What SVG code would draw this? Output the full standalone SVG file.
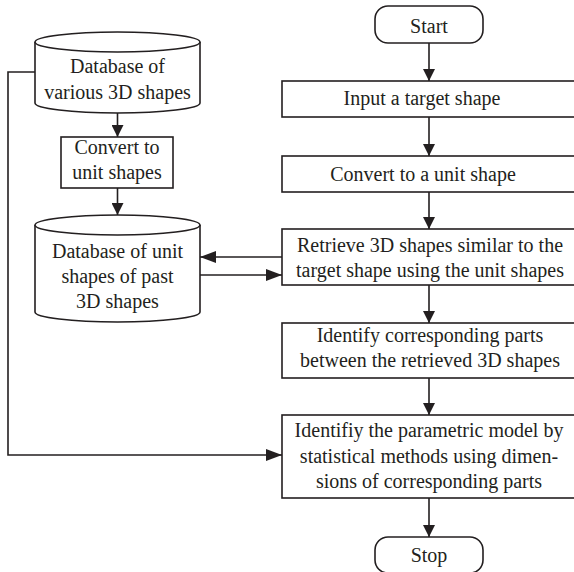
<svg xmlns="http://www.w3.org/2000/svg" width="574" height="572" viewBox="0 0 574 572">
<style>
.s{fill:#fff;stroke:#231f20;stroke-width:1.6}
.t{font-family:'Liberation Serif','DejaVu Serif',serif;font-size:20px;fill:#231f20;text-anchor:middle}
.c{fill:none;stroke:#231f20;stroke-width:1.6}
</style>
<defs>
<marker id="a" viewBox="0 0 12 12" refX="12" refY="6" markerWidth="12" markerHeight="12" markerUnits="userSpaceOnUse" orient="auto">
<path d="M0,0 L12,6 L0,12 z" fill="#231f20"/>
</marker>
<marker id="h" viewBox="0 0 16 12" refX="16" refY="6" markerWidth="16" markerHeight="12" markerUnits="userSpaceOnUse" orient="auto">
<path d="M0,0 L16,6 L0,12 z" fill="#231f20"/>
</marker>
</defs>
<rect width="574" height="572" fill="#fff"/>
<g id="connectors">
<path class="c" d="M429,43 V81" marker-end="url(#a)"/>
<path class="c" d="M429,117 V156" marker-end="url(#a)"/>
<path class="c" d="M429,192 V229" marker-end="url(#a)"/>
<path class="c" d="M429,285 V323" marker-end="url(#a)"/>
<path class="c" d="M429,378 V415" marker-end="url(#a)"/>
<path class="c" d="M429,498 V537" marker-end="url(#a)"/>
<path class="c" d="M117.5,113 V137" marker-end="url(#a)"/>
<path class="c" d="M117.5,188 V215" marker-end="url(#a)"/>
<path class="c" d="M282,257 H200" marker-end="url(#h)"/>
<path class="c" d="M200,275 H282" marker-end="url(#h)"/>
<path class="c" d="M35,72 H8 V455 H282" marker-end="url(#h)"/>
</g>
<g id="start">
<rect class="s" x="375" y="6" width="108" height="37" rx="13"/>
<text class="t" x="429" y="33">Start</text>
</g>
<g id="input">
<rect class="s" x="282" y="81" width="300" height="36"/>
<text class="t" x="422" y="105">Input a target shape</text>
</g>
<g id="convert">
<rect class="s" x="282" y="156" width="300" height="36"/>
<text class="t" x="423" y="181">Convert to a unit shape</text>
</g>
<g id="retrieve">
<rect class="s" x="282" y="229" width="300" height="56"/>
<text class="t" x="430" y="252">Retrieve 3D shapes similar to the</text>
<text class="t" x="430" y="277">target shape using the unit shapes</text>
</g>
<g id="identify">
<rect class="s" x="282" y="323" width="300" height="55"/>
<text class="t" x="430" y="342">Identify corresponding parts</text>
<text class="t" x="430" y="367">between the retrieved 3D shapes</text>
</g>
<g id="param">
<rect class="s" x="282" y="415" width="300" height="83"/>
<text class="t" x="429" y="437">Identifiy the parametric model by</text>
<text class="t" x="429" y="463">statistical methods using dimen-</text>
<text class="t" x="429" y="488">sions of corresponding parts</text>
</g>
<g id="stop">
<rect class="s" x="375" y="537" width="108" height="36" rx="13"/>
<text class="t" x="429" y="562">Stop</text>
</g>
<g id="db1">
<path class="s" d="M35,42 V103 A82.5,10 0 0 0 200,103 V42"/>
<ellipse class="s" cx="117.5" cy="42" rx="82.5" ry="10"/>
<text class="t" x="117.5" y="73">Database of</text>
<text class="t" x="117.5" y="99">various 3D shapes</text>
</g>
<g id="unit">
<rect class="s" x="61" y="137" width="112" height="51"/>
<text class="t" x="117" y="154">Convert to</text>
<text class="t" x="117" y="179">unit shapes</text>
</g>
<g id="db2">
<path class="s" d="M35,225 V312 A82.5,10 0 0 0 200,312 V225"/>
<ellipse class="s" cx="117.5" cy="225" rx="82.5" ry="10"/>
<text class="t" x="117.5" y="258">Database of unit</text>
<text class="t" x="117.5" y="283">shapes of past</text>
<text class="t" x="117.5" y="308">3D shapes</text>
</g>
</svg>
